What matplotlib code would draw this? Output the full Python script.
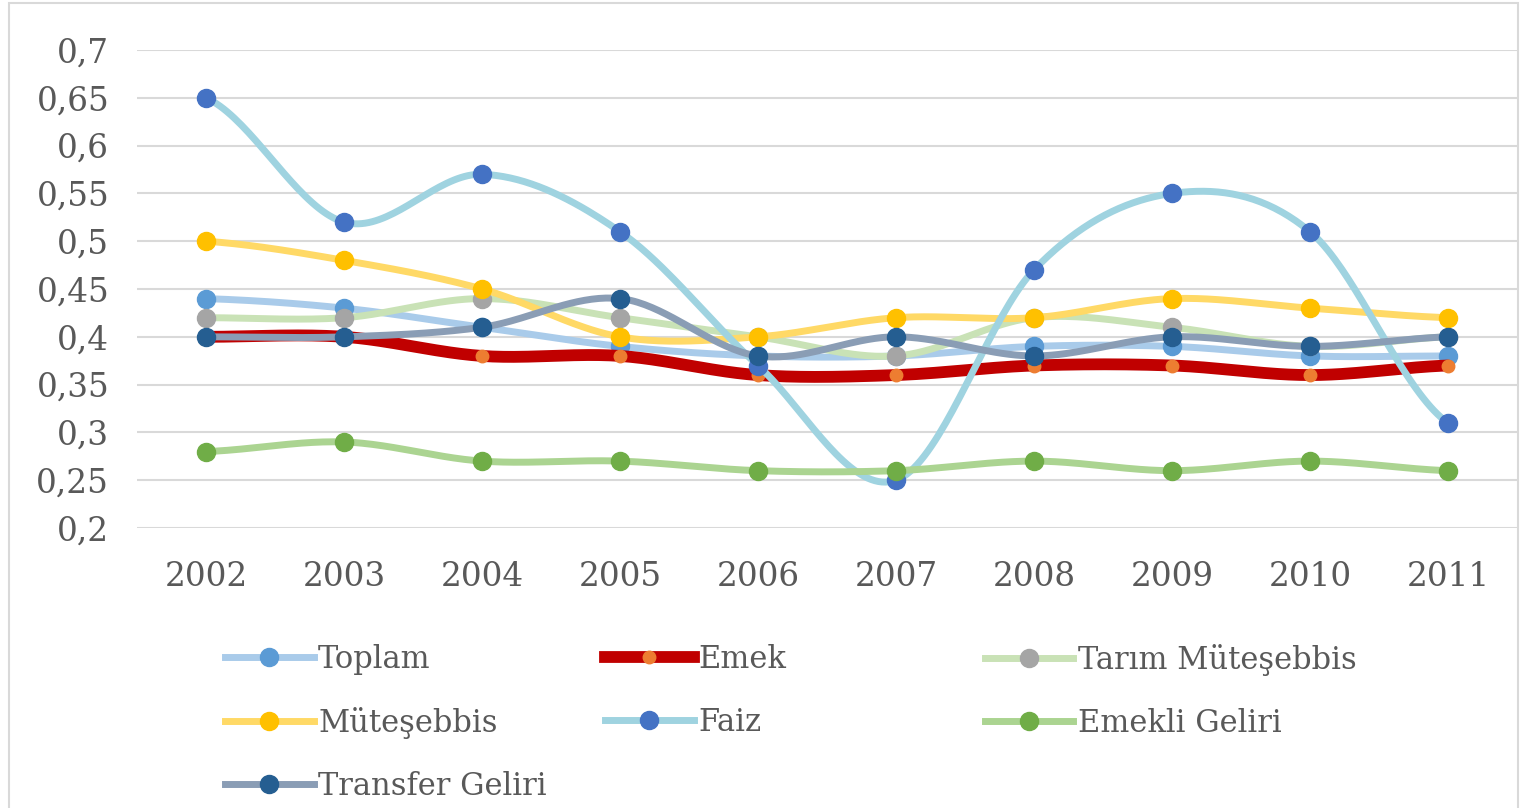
import numpy as np
import matplotlib.pyplot as plt
from matplotlib.patches import Rectangle
from matplotlib.lines import Line2D

# ===============================
# DATA
# ===============================
years = ["2002", "2003", "2004", "2005", "2006", "2007", "2008", "2009", "2010", "2011"]

toplam = [0.44, 0.43, 0.41, 0.39, 0.38, 0.38, 0.39, 0.39, 0.38, 0.38]
emek = [0.40, 0.40, 0.38, 0.38, 0.36, 0.36, 0.37, 0.37, 0.36, 0.37]
tarim_mutesebbis = [0.42, 0.42, 0.44, 0.42, 0.40, 0.38, 0.42, 0.41, 0.39, 0.40]
mutesebbis = [0.50, 0.48, 0.45, 0.40, 0.40, 0.42, 0.42, 0.44, 0.43, 0.42]
faiz = [0.65, 0.52, 0.57, 0.51, 0.37, 0.25, 0.47, 0.55, 0.51, 0.31]
emekli_geliri = [0.28, 0.29, 0.27, 0.27, 0.26, 0.26, 0.27, 0.26, 0.27, 0.26]
transfer_geliri = [0.40, 0.40, 0.41, 0.44, 0.38, 0.40, 0.38, 0.40, 0.39, 0.40]

y_ticks = [0.2, 0.25, 0.3, 0.35, 0.4, 0.45, 0.5, 0.55, 0.6, 0.65, 0.7]

# name, values, line colour, marker colour, line width, marker size
series = [
    ("Toplam", toplam, "#a9cbea", "#5b9bd5", 5, 13),
    ("Emek", emek, "#c00000", "#ed7d31", 8.5, 9),
    ("Tarım Müteşebbis", tarim_mutesebbis, "#c9e2b6", "#a5a5a5", 5, 13),
    ("Müteşebbis", mutesebbis, "#ffd966", "#ffc000", 5, 13),
    ("Faiz", faiz, "#9fd3e0", "#4472c4", 5, 13),
    ("Emekli Geliri", emekli_geliri, "#abd491", "#70ad47", 5, 13),
    ("Transfer Geliri", transfer_geliri, "#8a9db5", "#255e91", 5, 13),
]


def smooth(xs, ys, n=40):
    # Catmull-Rom curve through the points, like a spreadsheet "smoothed line"
    xs = np.asarray(xs, float)
    ys = np.asarray(ys, float)
    px = np.concatenate([[2 * xs[0] - xs[1]], xs, [2 * xs[-1] - xs[-2]]])
    py = np.concatenate([[ys[0]], ys, [ys[-1]]])
    out_x, out_y = [], []
    t = np.linspace(0, 1, n)
    for i in range(1, len(px) - 2):
        for arr, out in ((px, out_x), (py, out_y)):
            p0, p1, p2, p3 = arr[i - 1], arr[i], arr[i + 1], arr[i + 2]
            out.append(0.5 * ((2 * p1) + (-p0 + p2) * t
                              + (2 * p0 - 5 * p1 + 4 * p2 - p3) * t ** 2
                              + (-p0 + 3 * p1 - 3 * p2 + p3) * t ** 3))
    return np.concatenate(out_x), np.concatenate(out_y)


plt.rcParams['font.family'] = ['DejaVu Serif', 'Liberation Serif']
text_color = "#595959"

fig = plt.figure(figsize=(15.24, 8.08), dpi=100)
fig.patches.append(Rectangle((0.006, -0.01), 0.99, 1.006, transform=fig.transFigure,
                             fill=False, edgecolor="#d9d9d9", linewidth=1.5))

ax = fig.add_axes([0.0899, 0.3465, 0.9055, 0.5916])

x = np.arange(len(years))
handles = {}
for name, vals, lc, mc, lw, ms in series:
    sx, sy = smooth(x, vals)
    ax.plot(sx, sy, color=lc, linewidth=lw, solid_capstyle="round")
    ax.plot(x, vals, linestyle="none", marker="o", markersize=ms,
            markerfacecolor=mc, markeredgecolor=mc)
    handles[name] = Line2D([], [], color=lc, linewidth=lw, marker="o",
                           markersize=ms, markerfacecolor=mc, markeredgecolor=mc)

ax.set_xlim(-0.5, len(years) - 0.5)
ax.set_ylim(0.2, 0.7)
ax.set_xticks(x)
ax.set_xticklabels(years)
ax.set_yticks(y_ticks)
ax.set_yticklabels([("%g" % v).replace(".", ",") for v in y_ticks])
ax.grid(axis="y", color="#d9d9d9", linewidth=1.5)
ax.set_axisbelow(True)
for s in ax.spines.values():
    s.set_visible(False)
ax.tick_params(axis="both", length=0, colors=text_color, labelsize=23.5)
ax.tick_params(axis="x", pad=24)
ax.tick_params(axis="y", pad=20)

# legend laid out row by row, one legend per column
columns = [
    (["Toplam", "Müteşebbis", "Transfer Geliri"], 0.1476),
    (["Emek", "Faiz"], 0.397),
    (["Tarım Müteşebbis", "Emekli Geliri"], 0.646),
]
for names, left in columns:
    leg = fig.legend([handles[n] for n in names], names, loc="upper left",
                     bbox_to_anchor=(left, 0.203), frameon=False, fontsize=22,
                     handlelength=2.9, handletextpad=0.15, labelspacing=1.05,
                     borderaxespad=0, borderpad=0)
    for t in leg.get_texts():
        t.set_color(text_color)

fig.savefig("out.png", dpi=100)
